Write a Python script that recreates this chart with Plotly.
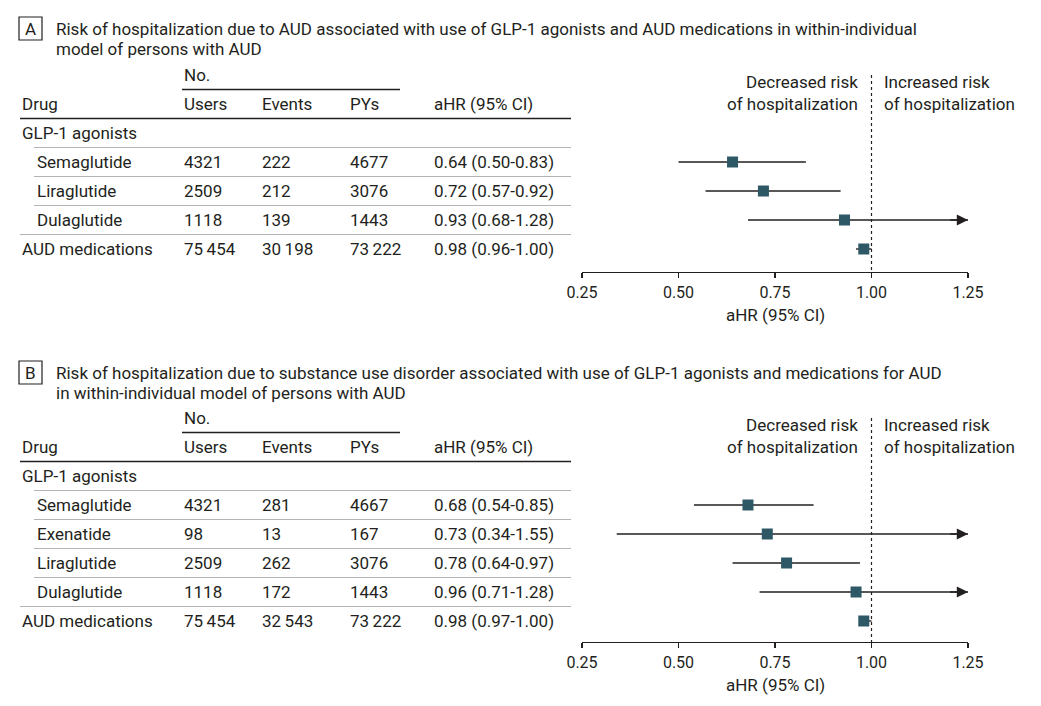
import plotly.graph_objects as go

# ---------------- data ----------------
a_drugs = ["Semaglutide", "Liraglutide", "Dulaglutide", "AUD medications"]
a_users = ["4321", "2509", "1118", "75\u2009454"]
a_events = ["222", "212", "139", "30\u2009198"]
a_pys = ["4677", "3076", "1443", "73\u2009222"]
a_hr = [0.64, 0.72, 0.93, 0.98]
a_lo = [0.50, 0.57, 0.68, 0.96]
a_hi = [0.83, 0.92, 1.28, 1.00]

b_drugs = ["Semaglutide", "Exenatide", "Liraglutide", "Dulaglutide", "AUD medications"]
b_users = ["4321", "98", "2509", "1118", "75\u2009454"]
b_events = ["281", "13", "262", "172", "32\u2009543"]
b_pys = ["4667", "167", "3076", "1443", "73\u2009222"]
b_hr = [0.68, 0.73, 0.78, 0.96, 0.98]
b_lo = [0.54, 0.34, 0.64, 0.71, 0.97]
b_hi = [0.85, 1.55, 0.97, 1.28, 1.00]

tick_vals = [0.25, 0.50, 0.75, 1.00, 1.25]
tick_text = ["0.25", "0.50", "0.75", "1.00", "1.25"]

title_a = ["Risk of hospitalization due to AUD associated with use of GLP-1 agonists and AUD medications in within-individual",
           "model of persons with AUD"]
title_b = ["Risk of hospitalization due to substance use disorder associated with use of GLP-1 agonists and medications for AUD",
           "in within-individual model of persons with AUD"]

W, H = 1041, 706
FONT = "Roboto"
TXT = "#231f20"
MARK = "#2e5865"
GRAY = "#b3b3b3"
FS = 17

def px(p):
    return p / W

def py(p):
    return 1 - p / H

fig = go.Figure()
annotations = []
shapes = []

ROW = 29.0
XMIN, XMAX = 0.25, 1.25
X0_PX, X1_PX = 582, 968


def panel(letter, titles, top_px, row0_px, axis_px, drugs, users, events, pys, hr, lo, hi, xa, ya):
    n = len(drugs)
    xref = "x" if xa == 1 else f"x{xa}"
    yref = "y" if ya == 1 else f"y{ya}"
    ytop = (top_px - row0_px) / ROW
    ybot = (axis_px - row0_px) / ROW
    ykey = "yaxis" if ya == 1 else f"yaxis{ya}"
    xkey = "xaxis" if xa == 1 else f"xaxis{xa}"
    fig.layout[ykey] = dict(domain=[py(axis_px), py(top_px)], range=[ybot, ytop],
                            visible=False, anchor=xref, fixedrange=True, automargin=False)
    fig.layout[xkey] = dict(domain=[px(X0_PX), px(X1_PX)], range=[XMIN, XMAX], anchor=yref,
                            showline=True, linecolor=TXT, linewidth=1.3, ticks="outside",
                            ticklen=5, tickwidth=1.3, tickcolor=TXT, tickvals=tick_vals,
                            ticktext=tick_text, tickfont=dict(family=FONT, size=16, color=TXT),
                            showgrid=False, zeroline=False, fixedrange=True, automargin=False)

    shapes.append(dict(type="rect", xref="paper", yref="paper", x0=px(19), x1=px(42),
                       y0=py(top_px + 17), y1=py(top_px + 40), line=dict(color=TXT, width=1.2)))
    annotations.append(dict(text=letter, xref="paper", yref="paper", x=px(30.5), y=py(top_px + 29),
                            xanchor="center", yanchor="middle", showarrow=False,
                            font=dict(family=FONT, size=FS, color=TXT)))
    for k, t in enumerate(titles):
        annotations.append(dict(text=t, xref="paper", yref="paper", x=px(54), y=py(top_px + 29 + 20 * k),
                                xanchor="left", yanchor="middle", showarrow=False,
                                font=dict(family=FONT, size=FS, color=TXT)))

    def txt(s, xp, yi, anchor="left"):
        annotations.append(dict(text=s, xref="paper", yref=yref, x=px(xp), y=yi, xanchor=anchor,
                                yanchor="middle", showarrow=False,
                                font=dict(family=FONT, size=FS, color=TXT)))

    def hline(x0, x1, yi, color, width):
        shapes.append(dict(type="line", xref="paper", yref=yref, x0=px(x0), x1=px(x1), y0=yi, y1=yi,
                           line=dict(color=color, width=width)))

    cols = [182, 260, 348, 432]
    txt("No.", 182, -3)
    hline(182, 400, -2.5, TXT, 1.3)
    txt("Drug", 20, -2)
    for c, s in zip(cols, ["Users", "Events", "PYs", "aHR (95% CI)"]):
        txt(s, c, -2)
    hline(20, 571, -1.5, TXT, 1.5)
    txt("GLP-1 agonists", 20, -1)
    for i in range(n):
        is_last = i == n - 1
        hline(20 if is_last else 34, 571, i - 0.5, GRAY, 1.2)
        txt(drugs[i], 20 if is_last else 35, i)
        txt(users[i], cols[0], i)
        txt(events[i], cols[1], i)
        txt(pys[i], cols[2], i)
        txt(f"{hr[i]:.2f} ({lo[i]:.2f}-{hi[i]:.2f})", cols[3], i)

    shapes.append(dict(type="line", xref=xref, yref=yref, x0=1.0, x1=1.0, y0=-3.0, y1=ybot,
                       line=dict(color=TXT, width=1.2, dash="dot")))
    annotations.append(dict(text="Decreased risk<br>of hospitalization", xref="paper", yref=yref,
                            x=px(860), y=-2.37, xanchor="right", yanchor="middle", align="right",
                            showarrow=False, font=dict(family=FONT, size=FS, color=TXT)))
    annotations.append(dict(text="Increased risk<br>of hospitalization", xref="paper", yref=yref,
                            x=px(882), y=-2.37, xanchor="left", yanchor="middle", align="left",
                            showarrow=False, font=dict(family=FONT, size=FS, color=TXT)))
    annotations.append(dict(text="aHR (95% CI)", xref=xref, yref="paper", x=0.75,
                            y=py(axis_px + 43), xanchor="center", yanchor="middle", showarrow=False,
                            font=dict(family=FONT, size=FS, color=TXT)))

    for i in range(n):
        hi_c = min(hi[i], XMAX)
        fig.add_trace(go.Scatter(x=[lo[i], hi_c], y=[i, i], mode="lines", xaxis=xref, yaxis=yref,
                                 line=dict(color=TXT, width=1.4), showlegend=False, hoverinfo="skip"))
        if hi[i] > XMAX:
            annotations.append(dict(x=XMAX, y=i, ax=XMAX - 0.05, ay=i, xref=xref, yref=yref,
                                    axref=xref, ayref=yref, text="", showarrow=True, arrowhead=2,
                                    arrowsize=1.6, arrowwidth=1.4, arrowcolor=TXT, standoff=0))
    fig.add_trace(go.Scatter(x=hr, y=list(range(n)), mode="markers", xaxis=xref, yaxis=yref,
                             marker=dict(symbol="square", size=11, color=MARK, line=dict(width=0)),
                             showlegend=False, hoverinfo="skip"))


panel("A", title_a, 0, 162, 272, a_drugs, a_users, a_events, a_pys, a_hr, a_lo, a_hi, 1, 1)
panel("B", title_b, 344, 505, 642, b_drugs, b_users, b_events, b_pys, b_hr, b_lo, b_hi, 2, 2)

fig.update_layout(width=W, height=H, margin=dict(l=0, r=0, t=0, b=0, pad=0, autoexpand=False),
                  paper_bgcolor="white", plot_bgcolor="white",
                  annotations=annotations, shapes=shapes,
                  font=dict(family=FONT, color=TXT), template="none")

fig.write_html("out.html", config={"displayModeBar": False, "staticPlot": True},
               post_script="document.body.style.margin='0';document.body.style.overflow='hidden';")
